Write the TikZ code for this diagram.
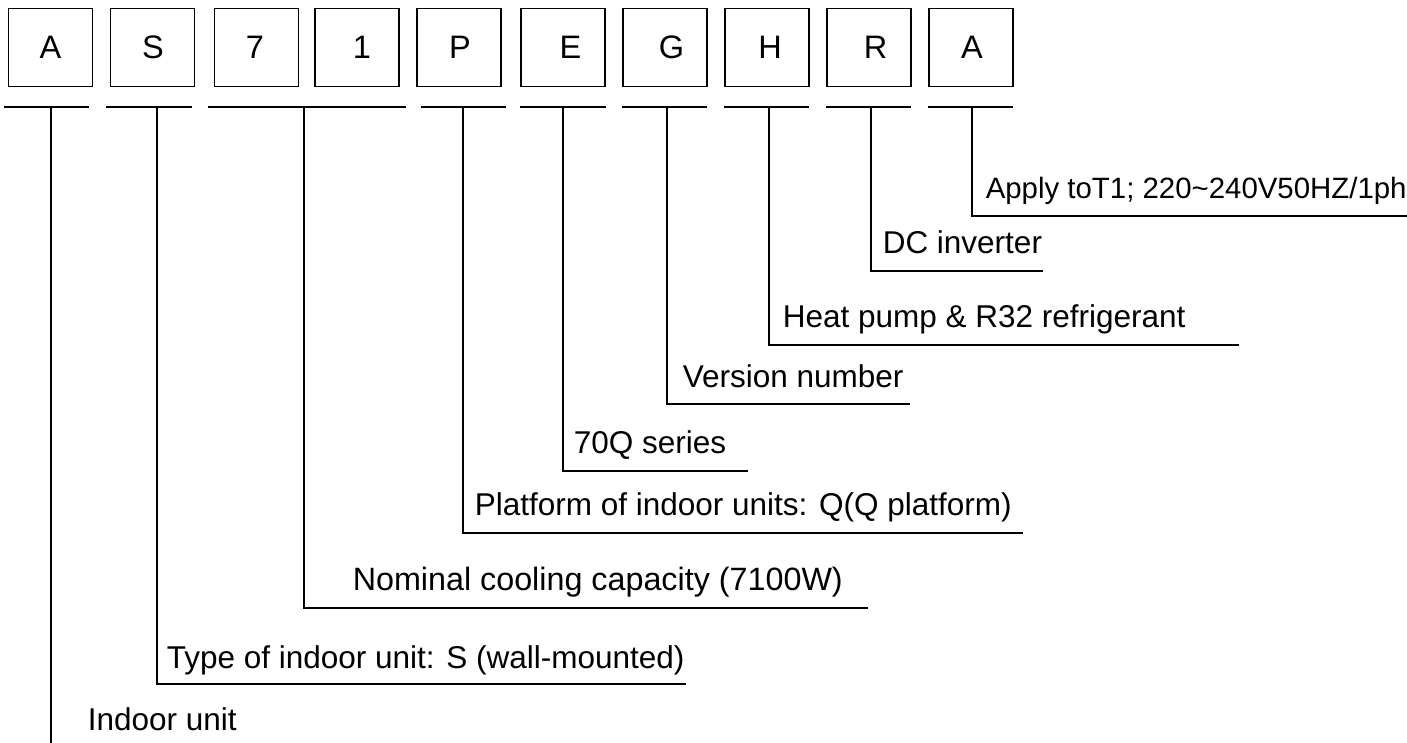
\documentclass[tikz,border=0pt]{standalone}
\usepackage{fontspec}
\setmainfont{Liberation Sans}
\newcommand{\shiftby}[1]{\hspace*{#1}}
\begin{document}
\begin{tikzpicture}[x=1pt,y=-1pt,
  line width=1.5pt,
  letterbox/.style={draw,line width=1.5pt,minimum width=84pt,minimum height=78pt,inner sep=0pt,font=\fontsize{32.5}{32.5}\selectfont},
  lbl/.style={anchor=base west,inner sep=0pt,font=\fontsize{31.5}{31.5}\selectfont},
  lblsmall/.style={anchor=base west,inner sep=0pt,font=\fontsize{29.4}{29.4}\selectfont}]
\useasboundingbox (0,0) rectangle (1407,743);
% boxes
\node[letterbox] (bA) at (50.5,47.5) {A};
\node[letterbox] (bS) at (152.5,47.5) {\shiftby{1pt}S};
\node[letterbox] (b7) at (256.5,47.5) {7\shiftby{3pt}};
\node[letterbox] (b1) at (357,47.5) {\shiftby{10pt}1};
\node[letterbox] (bP) at (459,47.5) {\shiftby{2pt}P};
\node[letterbox] (bE) at (563,47.5) {\shiftby{15pt}E};
\node[letterbox] (bG) at (665,47.5) {\shiftby{13pt}G};
\node[letterbox] (bH) at (767,47.5) {\shiftby{6pt}H};
\node[letterbox] (bR) at (869,47.5) {\shiftby{13pt}R};
\node[letterbox] (bA2) at (971,47.5) {\shiftby{2pt}A};
% underlines
\coordinate (uAl) at (4,107);   \coordinate (uAr) at (89,107);
\coordinate (uSl) at (106,107); \coordinate (uSr) at (192,107);
\coordinate (u7l) at (208,107); \coordinate (u7r) at (406,107);
\coordinate (uPl) at (421,107); \coordinate (uPr) at (506,107);
\coordinate (uEl) at (520,107); \coordinate (uEr) at (606,107);
\coordinate (uGl) at (622,107); \coordinate (uGr) at (707,107);
\coordinate (uHl) at (724,107); \coordinate (uHr) at (809,107);
\coordinate (uRl) at (826,107); \coordinate (uRr) at (911,107);
\coordinate (uA2l) at (928,107); \coordinate (uA2r) at (1013,107);
\foreach \u in {A,S,7,P,E,G,H,R,A2}{\draw (u\u l) -- (u\u r);}
% stems
\coordinate (sA) at (51,107);
\coordinate (sS) at (157,107);
\coordinate (s7) at (304,107);
\coordinate (sP) at (463,107);
\coordinate (sE) at (563,107);
\coordinate (sG) at (667,107);
\coordinate (sH) at (769,107);
\coordinate (sR) at (871,107);
\coordinate (sA2) at (972,107);
% ends
\coordinate (eA) at (51,743);
\coordinate (eS) at (686,684);
\coordinate (e7) at (868,608);
\coordinate (eP) at (1023,533);
\coordinate (eE) at (748,471);
\coordinate (eG) at (910,404);
\coordinate (eH) at (1239,345);
\coordinate (eR) at (1043,271);
\coordinate (eA2) at (1407,216);
\draw (sA) -- (eA);
\draw (sS) |- (eS);
\draw (s7) |- (e7);
\draw (sP) |- (eP);
\draw (sE) |- (eE);
\draw (sG) |- (eG);
\draw (sH) |- (eH);
\draw (sR) |- (eR);
\draw (sA2) |- (eA2);
% labels
\node[lblsmall] (tA2) at (985,199) {Apply toT1; 220\textasciitilde240V50HZ/1ph};
\node[lbl] (tR) at (882,254) {DC inverter};
\node[lbl] (tH) at (782,327) {Heat pump \& R32 refrigerant};
\node[lbl] (tG) at (682,387) {Version number};
\node[lbl] (tE) at (573,453) {70Q series};
\node[lbl] (tP) at (474,515) {Platform of indoor units: Q(Q platform)};
\node[lbl] (t7) at (352,590) {\fontsize{32.3}{32.3}\selectfont Nominal cooling capacity (7100W)};
\node[lbl] (tS) at (166,668) {Type of indoor unit: S (wall-mounted)};
\node[lbl] (tA) at (87,730) {Indoor unit};
\end{tikzpicture}
\end{document}
